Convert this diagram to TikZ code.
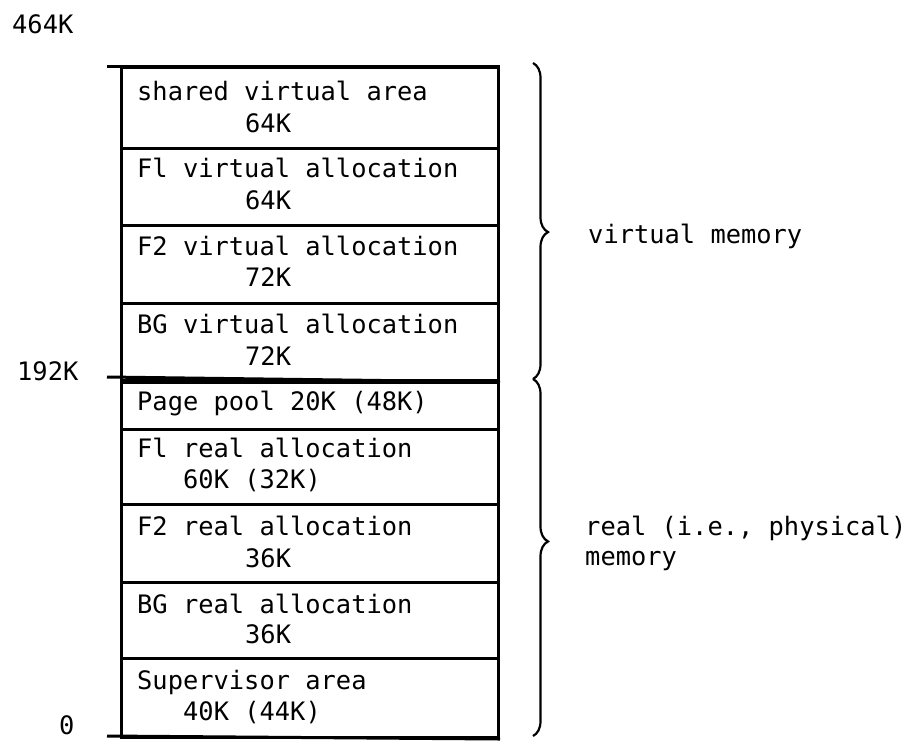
\documentclass[tikz,border=0pt]{standalone}
\usepackage{fontspec}
\setmonofont{DejaVu Sans Mono}
\usetikzlibrary{decorations.pathreplacing}
\begin{document}
\begin{tikzpicture}[x=1pt,y=-1pt,
  txt/.style={anchor=base west,inner sep=0pt,font=\fontsize{25.4pt}{30pt}\ttfamily},
  cell/.style={draw,line width=3pt,anchor=north west,minimum width=377pt,inner sep=0pt},
  rule/.style={line width=3pt},
  bracestyle/.style={line width=2.2pt,decorate}]
\useasboundingbox (0,0) rectangle (917,740);
% cells
\node[cell,minimum height=81pt] (s1) at (120,66) {};
\node[cell,minimum height=77pt] (s2) at (120,147) {};
\node[cell,minimum height=78pt] (s3) at (120,224) {};
\node[cell,minimum height=77pt] (s4) at (120,302) {};
\node[cell,minimum height=47pt] (s5) at (120,381) {};
\node[cell,minimum height=75pt] (s6) at (120,428) {};
\node[cell,minimum height=78pt] (s7) at (120,503) {};
\node[cell,minimum height=76pt] (s8) at (120,581) {};
\node[cell,minimum height=79pt] (s9) at (120,657) {};
% ticks
\coordinate (t464) at (107,66);
\coordinate (t192) at (107,377);
\coordinate (t0) at (107,736);
\draw[rule] (t464) -- (s1.north east);
\draw[rule] (t192) -- (s4.south east);
\draw[rule] (t0) -- (s9.south east);
% address labels
\node[txt] (a464) at (12,33) {464K};
\node[txt] (a192) at (17,380) {192K};
\node[txt] (a0) at (59,734) {0};
% cell texts
\node[txt] at (137,100) {shared virtual area};
\node[txt] at (245,132) {64K};
\node[txt] at (137,177) {Fl virtual allocation};
\node[txt] at (245,209) {64K};
\node[txt] at (137,255) {F2 virtual allocation};
\node[txt] at (245,286) {72K};
\node[txt] at (137,333) {BG virtual allocation};
\node[txt] at (245,365) {72K};
\node[txt] at (137,410) {Page pool 20K (48K)};
\node[txt] at (137,457) {Fl real allocation};
\node[txt] at (183,488) {60K (32K)};
\node[txt] at (137,535) {F2 real allocation};
\node[txt] at (245,567) {36K};
\node[txt] at (137,613) {BG real allocation};
\node[txt] at (245,643) {36K};
\node[txt] at (137,689) {Supervisor area};
\node[txt] at (183,720) {40K (44K)};
% braces
\coordinate (vb1) at (533,63);
\coordinate (vb2) at (533,379);
\coordinate (rb1) at (533,379);
\coordinate (rb2) at (533,736);
\draw[bracestyle,decoration={brace,amplitude=15pt,aspect=0.535}] (vb1) -- (vb2);
\draw[bracestyle,decoration={brace,amplitude=15pt,aspect=0.455}] (rb1) -- (rb2);
\node[txt] (vm) at (588,243) {virtual memory};
\node[txt] (rm1) at (585,535) {real (i.e., physical)};
\node[txt] (rm2) at (585,565) {memory};
\end{tikzpicture}
\end{document}
